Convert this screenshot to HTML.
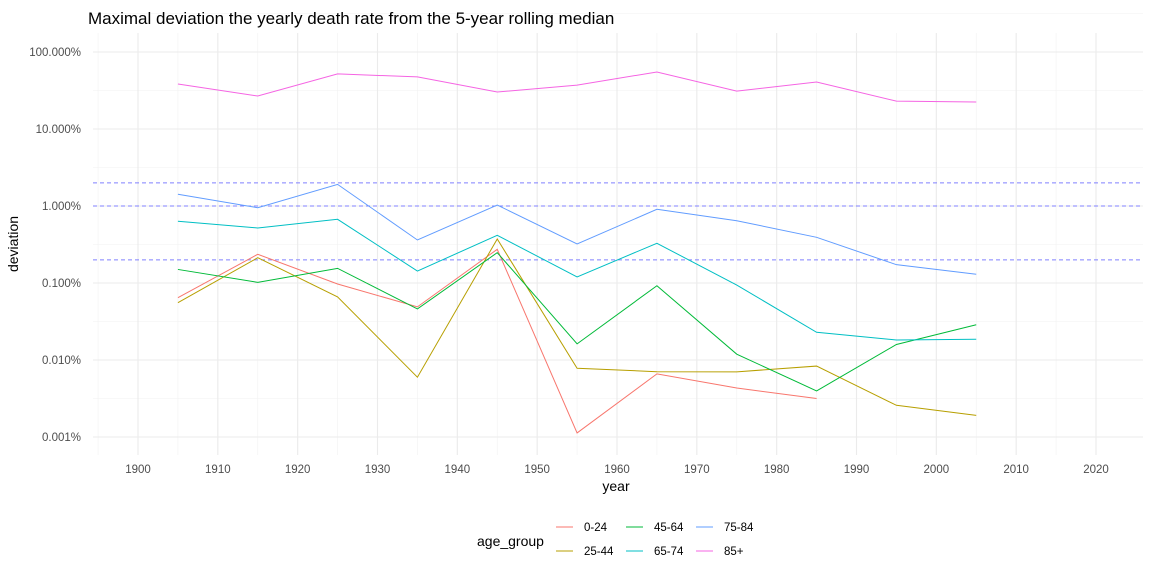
<!DOCTYPE html>
<html><head><meta charset="utf-8"><style>
body{margin:0;background:#fff;font-family:"Liberation Sans",Arial,sans-serif}
svg text{font-family:"Liberation Sans",Arial,sans-serif}
</style></head><body>
<svg id="c" width="1152" height="576"></svg>
<script>
const years=[1905,1915,1925,1935,1945,1955,1965,1975,1985,1995,2005];
const groups=["0-24","25-44","45-64","65-74","75-84","85+"];
const colors=["#F8766D","#B79F00","#00BA38","#00BFC4","#619CFF","#F564E3"];
const s024=[0.0645,0.236,0.097,0.049,0.274,0.00113,0.0066,0.00433,0.00316,null,null];
const s2544=[0.0555,0.213,0.066,0.00598,0.373,0.00781,0.00705,0.00702,0.00834,0.00258,0.00191];
const s4564=[0.150,0.102,0.155,0.046,0.248,0.0162,0.0922,0.0119,0.00397,0.0159,0.0287];
const s6574=[0.633,0.518,0.672,0.143,0.416,0.120,0.328,0.094,0.0229,0.0182,0.0186];
const s7584=[1.42,0.95,1.91,0.362,1.03,0.321,0.906,0.644,0.392,0.173,0.13];
const s85=[38.4,26.8,51.9,47.5,30.2,37.2,55,31,40.7,23,22.4];
const series=[s024,s2544,s4564,s6574,s7584,s85];
const refLines=[2,1,0.2];
const xTicks=[1900,1910,1920,1930,1940,1950,1960,1970,1980,1990,2000,2010,2020];
const yTicks=[100,10,1,0.1,0.01,0.001];
const yLabels=["100.000%","10.000%","1.000%","0.100%","0.010%","0.001%"];
const X=y=>138+(y-1900)*(1096-138)/120;
const Y=v=>206-77*Math.log10(v);
const svg=document.getElementById('c');const NS="http://www.w3.org/2000/svg";
function mk(t,a,p){const e=document.createElementNS(NS,t);for(const k in a)e.setAttribute(k,a[k]);(p||svg).appendChild(e);return e;}
const L=93,R=1143,T=33,B=455;
// minor grid
for(let i=0;i<xTicks.length-1;i++){const x=X(xTicks[i]+5);const e=mk('line',{x1:x,x2:x,y1:T,y2:B,stroke:'#f2f2f2','stroke-width':0.6});}
{const x=X(1895);mk('line',{x1:x,x2:x,y1:T,y2:B,stroke:'#f2f2f2','stroke-width':0.6});}
for(let i=0;i<yTicks.length-1;i++){const y=Y(yTicks[i])+38.5;const e=mk('line',{x1:L,x2:R,y1:y,y2:y,stroke:'#f2f2f2','stroke-width':0.6});}
mk('line',{x1:L,x2:R,y1:Y(100)-38.5,y2:Y(100)-38.5,stroke:'#f2f2f2','stroke-width':0.6});
xTicks.forEach(t=>{const x=X(t);const e=mk('line',{x1:x,x2:x,y1:T,y2:B,stroke:'#ebebeb','stroke-width':1.1});
const tx=mk('text',{x:x,y:473,'text-anchor':'middle','font-size':11.5,fill:'#4d4d4d'});tx.textContent=t;});
yTicks.forEach((t,i)=>{const y=Y(t);const e=mk('line',{x1:L,x2:R,y1:y,y2:y,stroke:'#ebebeb','stroke-width':1.1});
const tx=mk('text',{x:81,y:y+4,'text-anchor':'end','font-size':11.5,fill:'#4d4d4d'});tx.textContent=yLabels[i];});
refLines.forEach(v=>{const y=Y(v);const e=mk('line',{x1:L,x2:R,y1:y,y2:y,stroke:'#8080ff','stroke-width':1,'stroke-dasharray':'4,3'});});
series.forEach((s,i)=>{let d='';s.forEach((v,j)=>{if(v==null)return;d+=(d?'L':'M')+X(years[j])+','+Y(v);});
const p=mk('path',{d:d,fill:'none',stroke:colors[i],'stroke-width':1});});
let t=mk('text',{x:88,y:24,'font-size':17,fill:'#000'});t.textContent='Maximal deviation the yearly death rate from the 5-year rolling median';
t=mk('text',{x:616,y:491,'text-anchor':'middle','font-size':14,fill:'#000'});t.textContent='year';
t=mk('text',{x:18,y:244,'text-anchor':'middle','font-size':14,fill:'#000',transform:'rotate(-90 18 244)'});t.textContent='deviation';
t=mk('text',{x:477,y:546,'font-size':14,fill:'#000'});t.textContent='age_group';
const lx=[556,626,696],ly=[527,551];
groups.forEach((g,i)=>{const c=Math.floor(i/2),r=i%2;const gEl=mk('g',{});
mk('line',{x1:lx[c],x2:lx[c]+17,y1:ly[r],y2:ly[r],stroke:colors[i],'stroke-width':1},gEl);
const tt=mk('text',{x:lx[c]+28,y:ly[r]+4,'font-size':11.5,fill:'#000'},gEl);tt.textContent=g;});
</script></body></html>
